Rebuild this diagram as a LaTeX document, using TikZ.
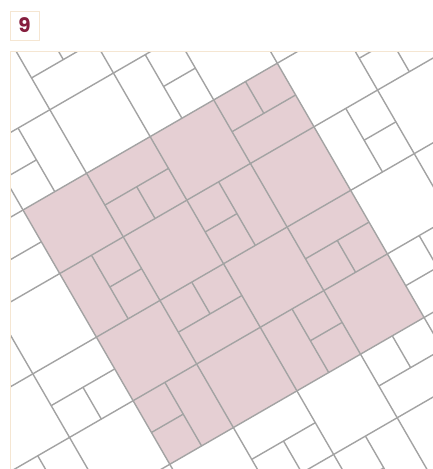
\documentclass[tikz,border=0pt]{standalone}
\usepackage{fontspec}
\newfontfamily\labfont{Poppins}
\definecolor{tileline}{RGB}{163,163,163}
\definecolor{tilepink}{RGB}{229,207,211}
\definecolor{frameb}{RGB}{245,230,210}
\definecolor{labred}{RGB}{133,30,62}
\newcommand\tilemotif{%
  \draw[tileseg] (1,0.5)--(2,0.5) (1.5,0.5)--(1.5,1)
    (3,0.5)--(4,0.5) (3.5,0)--(3.5,0.5)
    (0.5,1)--(0.5,2) (0.5,1.5)--(1,1.5)
    (2.5,1)--(2.5,2) (2,1.5)--(2.5,1.5)
    (1,2.5)--(2,2.5) (1.5,2)--(1.5,2.5)
    (3,2.5)--(4,2.5) (3.5,2.5)--(3.5,3)
    (0.5,3)--(0.5,4) (0,3.5)--(0.5,3.5)
    (2.5,3)--(2.5,4) (2.5,3.5)--(3,3.5);}
\begin{document}
\begin{tikzpicture}[x=1pt,y=-1pt,
  tileseg/.style={draw=tileline,line width=1.4pt},
  framestyle/.style={draw=frameb,line width=1pt},
  labstyle/.style={draw=frameb,line width=1pt,minimum size=29pt,inner sep=0pt,
    text=labred,font=\labfont\bfseries\fontsize{20}{20}\selectfont}]
\useasboundingbox (0,0) rectangle (433,469);
\fill[white] (0,0) rectangle (433,469);
\node[labstyle] (lab) at (24.5,25.5) {9};
\begin{scope}
  \clip (10.5,51.5) rectangle (445,480);
  \begin{scope}[shift={(23pt,-210pt)}, x={(63.57pt,36.7pt)}, y={(36.7pt,-63.57pt)}]
    \fill[tilepink] (0,0)--(4,0)--(4,4)--(0,4)--cycle;
    \foreach \k in {-4,...,8} {
      \draw[tileseg] (\k,-4) -- (\k,8);
      \draw[tileseg] (-4,\k) -- (8,\k);
    }
    \foreach \a in {-4,0,4} {
      \foreach \b in {-4,0,4} {
        \begin{scope}[shift={(\a,\b)}]
          \tilemotif
        \end{scope}
      }
    }
  \end{scope}
\end{scope}
\draw[framestyle] (10,485) -- (10,51) -- (445,51);
\end{tikzpicture}
\end{document}
